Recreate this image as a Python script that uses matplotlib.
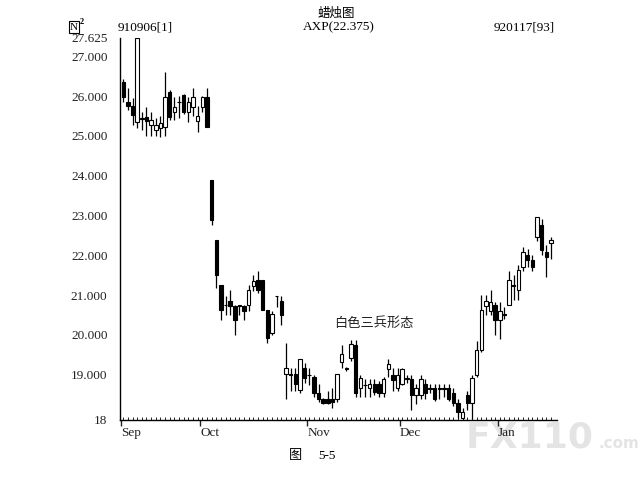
import numpy as np
import matplotlib.pyplot as plt

plt.rcParams['font.family'] = ['Liberation Serif', 'Noto Sans CJK SC']

# 数据：AXP 日线 910906[1] - 920117[93]
opens = [26.36, 25.86, 25.75, 25.35, 25.45, 25.47, 25.27, 25.15, 25.20, 25.23,
         26.10, 25.60, 25.86, 26.02, 25.60, 25.72, 25.38, 25.73, 25.98,
         23.89, 22.38, 21.25, 20.75, 20.85, 20.73, 20.74, 20.73, 20.75, 21.23,
         21.38, 21.38, 20.62, 20.05, 20.97, 20.85,
         19.02, 19.01, 19.01, 18.61, 19.16, 19.00, 18.95, 18.53, 18.39, 18.39,
         18.39, 18.40, 19.32, 19.16, 19.41, 19.74, 18.66, 18.74, 18.66, 18.76,
         18.76, 18.53, 19.14, 19.00, 18.66, 18.76, 18.91, 18.89, 18.50, 18.50,
         18.76, 18.66, 18.66, 18.66, 18.66, 18.66, 18.53, 18.28, 17.90, 18.50,
         18.28, 18.99, 19.62, 20.73, 20.60, 20.75, 20.37, 20.51, 20.75, 21.25,
         21.13, 21.71, 22.00, 21.88, 22.47, 22.76, 22.09, 22.30]
highs = [26.42, 26.20, 25.95, 27.45, 25.60, 25.72, 25.60, 25.45, 25.50, 26.60,
         26.15, 25.98, 26.00, 26.05, 25.98, 26.20, 25.75, 26.00, 26.20,
         23.89, 22.38, 21.25, 20.98, 21.13, 20.75, 20.75, 20.75, 21.25, 21.50,
         21.60, 21.38, 20.62, 20.60, 20.98, 20.98,
         19.79, 19.16, 19.16, 19.39, 19.30, 19.16, 19.00, 18.76, 18.42, 18.60,
         18.66, 19.02, 19.74, 19.20, 19.87, 19.87, 19.00, 18.90, 18.90, 18.90,
         18.85, 18.95, 19.39, 19.16, 19.16, 19.16, 19.00, 19.00, 18.76, 19.00,
         18.90, 18.76, 18.76, 18.76, 18.76, 18.76, 18.66, 18.40, 18.15, 18.60,
         19.00, 19.85, 21.00, 21.00, 21.13, 20.83, 20.83, 20.70, 21.60, 21.50,
         21.75, 22.20, 22.15, 22.00, 22.97, 22.90, 22.26, 22.45]
lows = [25.86, 25.65, 25.27, 25.20, 25.15, 25.00, 25.00, 25.00, 24.98, 25.00,
        25.40, 25.40, 25.45, 25.55, 25.35, 25.50, 25.10, 25.60, 25.23,
        22.76, 21.18, 20.37, 20.50, 20.50, 20.00, 20.50, 20.37, 20.60, 21.10,
        21.05, 20.62, 19.80, 20.00, 20.70, 20.25,
        18.40, 18.60, 18.60, 18.55, 18.80, 18.75, 18.45, 18.30, 18.25, 18.25,
        18.15, 18.30, 19.16, 19.10, 19.35, 18.45, 18.45, 18.45, 18.45, 18.50,
        18.45, 18.45, 18.95, 18.60, 18.60, 18.75, 18.80, 18.10, 18.25, 18.40,
        18.40, 18.53, 18.35, 18.40, 18.45, 18.35, 18.20, 17.90, 17.88, 18.10,
        17.88, 18.95, 19.58, 20.50, 20.50, 20.00, 19.90, 20.40, 20.75, 20.88,
        20.88, 21.60, 21.70, 21.60, 22.35, 22.00, 21.46, 21.90]
closes = [25.98, 25.75, 25.52, 27.45, 25.43, 25.37, 25.40, 25.27, 25.32, 25.98,
          25.48, 25.72, 25.84, 25.60, 25.85, 25.98, 25.50, 25.98, 25.23,
          22.88, 21.50, 20.62, 20.74, 20.73, 20.37, 20.73, 20.60, 21.13, 21.35,
          21.13, 20.62, 19.92, 20.52, 20.98, 20.50,
          19.16, 19.00, 18.76, 19.39, 18.91, 18.99, 18.53, 18.39, 18.28, 18.28,
          18.30, 19.02, 19.53, 19.15, 19.76, 18.53, 18.91, 18.73, 18.76, 18.57,
          18.53, 18.90, 19.26, 18.86, 19.00, 19.14, 18.90, 18.50, 18.66, 18.89,
          18.53, 18.65, 18.40, 18.65, 18.65, 18.40, 18.28, 18.07, 18.05, 18.28,
          18.91, 19.62, 20.62, 20.85, 20.83, 20.37, 20.60, 20.50, 21.38, 21.24,
          21.63, 22.09, 21.88, 21.71, 22.97, 22.13, 21.96, 22.375]

month_labels = ['Sep', 'Oct', 'Nov', 'Dec', 'Jan']
month_starts = [0, 17, 40, 60, 81]

ytick_values = [17.86, 19, 20, 21, 22, 23, 24, 25, 26, 27, 27.46]
ytick_labels = ['18', '19.000', '20.000', '21.000', '22.000', '23.000',
                '24.000', '25.000', '26.000', '27.000', '27.625']

W, H = 641, 487


def px(x, y):
    return x / W, 1 - y / H


fig = plt.figure(figsize=(W / 100, H / 100), dpi=100)
ax = fig.add_axes([120 / W, 1 - 420 / H, 437 / W, 382 / H])

o = np.array(opens)
c = np.array(closes)
idx = np.arange(len(o))
up = c >= o
body = np.maximum(np.abs(c - o), 0.012)

# 影线
ax.vlines(idx, lows, highs, color='black', lw=0.9, zorder=1)
# 阳线（空心）和阴线（实心）
ax.bar(idx[up], body[up], bottom=o[up], width=0.74, facecolor='white',
       edgecolor='black', lw=0.8, zorder=2)
ax.bar(idx[~up], body[~up], bottom=c[~up], width=0.74, facecolor='black',
       edgecolor='black', lw=0.8, zorder=2)

ax.set_xlim(-0.7, 93.3)
ax.set_ylim(17.86, 27.46)

for s in ['top', 'right']:
    ax.spines[s].set_visible(False)
ax.spines['left'].set_linewidth(1.0)
ax.spines['bottom'].set_linewidth(1.0)

ax.set_yticks(ytick_values, ytick_labels)
ax.tick_params(axis='y', length=0, pad=9, labelsize=9.5, colors='#222222')

ax.set_xticks([m - 0.45 for m in month_starts], month_labels)
for lab in ax.get_xticklabels():
    lab.set_horizontalalignment('left')
ax.set_xticks(idx, minor=True)
ax.tick_params(axis='x', which='major', direction='out', length=4, width=1,
               pad=1, labelsize=9.5, colors='#222222')
ax.tick_params(axis='x', which='minor', direction='in', length=2, width=0.6)

# 标题与标注
fig.text(*px(336, 13), '蜡烛图', ha='center', va='center', fontsize=9,
         family=['Noto Sans CJK SC'])
fig.text(*px(339, 27), 'AXP(22.375)', ha='center', va='center', fontsize=9.5)
fig.text(*px(118, 27), '910906[1]', ha='left', va='center', fontsize=9.5)
fig.text(*px(555, 27), '920117[93]', ha='right', va='center', fontsize=9.5)
fig.text(*px(70, 27), 'N', ha='left', va='center', fontsize=8,
         bbox=dict(boxstyle='square,pad=0.1', fc='white', ec='black', lw=0.8))
fig.text(*px(80, 22), '2', ha='left', va='center', fontsize=6, weight='bold')

fig.text(*px(374, 323), '白色三兵形态', ha='center', va='center', fontsize=9.5,
         family=['Noto Sans CJK SC'], color='#222222')
fig.text(*px(296, 456), '图', ha='center', va='center', fontsize=9.5,
         family=['Noto Sans CJK SC'])
fig.text(*px(318, 456), '5-5', ha='left', va='center', fontsize=9.5)

# 水印（放在坐标轴之下）
fig.text(*px(466, 438), 'FX110', ha='left', va='center', fontsize=26,
         weight='bold', color='#e4e4e4', family='DejaVu Sans', zorder=-1)
fig.text(*px(598, 444), '.com', ha='left', va='center', fontsize=11,
         weight='bold', color='#e4e4e4', family='DejaVu Sans', zorder=-1)

fig.savefig('out.png', dpi=100)
